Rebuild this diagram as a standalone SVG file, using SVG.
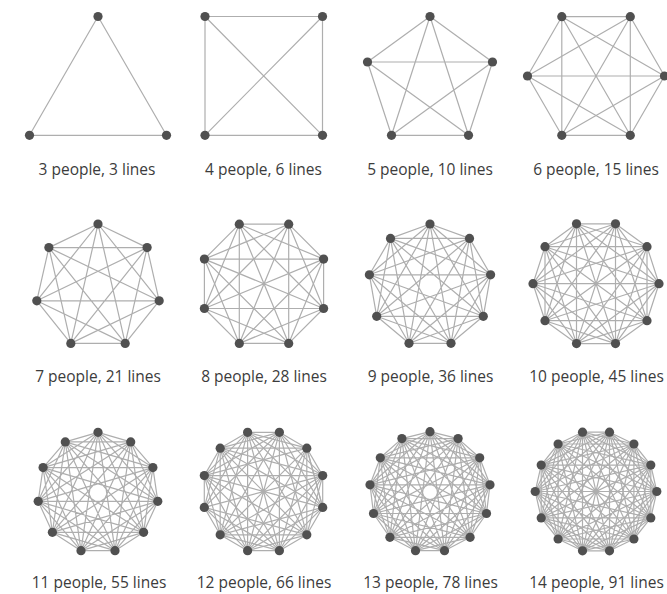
<svg xmlns="http://www.w3.org/2000/svg" width="667" height="594" viewBox="0 0 667 594">
<style>
.e{fill:none;stroke:#aeaeae;stroke-width:1.2;stroke-linejoin:round}
.n circle{fill:#505050}
.lbl{font-family:"Open Sans","Noto Sans","DejaVu Sans",sans-serif;font-size:15.5px;fill:#3c3c3c;text-anchor:middle}
</style>
<rect width="667" height="594" fill="#fff"/>
<g id="connectors">
<g id="e3"><polygon class="e" points="98,16.5 166.5,135.3 29.5,135.3"/></g>
<g id="e4"><polygon class="e" points="205,16.5 322.5,16.5 322.5,135.3 205,135.3"/><path class="e" d="M205,16.5L322.5,135.3M322.5,16.5L205,135.3"/></g>
<g id="e5">
<polygon class="e" points="430,16.5 492.5,62 468.5,135.3 391.5,135.3 367.5,62"/>
<polygon class="e" points="430,16.5 468.5,135.3 367.5,62 492.5,62 391.5,135.3"/>
</g>
<g id="e6">
<polygon class="e" points="561.8,16.7 630.3,16.7 664.5,76 630.3,135.3 561.8,135.3 527.5,76"/>
<polygon class="e" points="561.8,16.7 664.5,76 561.8,135.3"/>
<polygon class="e" points="630.3,16.7 630.3,135.3 527.5,76"/>
<path class="e" d="M561.8,16.7L630.3,135.3M630.3,16.7L561.8,135.3M664.5,76L527.5,76"/>
</g>
<g id="e7">
<polygon class="e" points="98,224 147.1,247.6 159.2,300.8 125.2,343.4 70.8,343.4 36.8,300.8 48.9,247.6"/>
<polygon class="e" points="98,224 159.2,300.8 70.8,343.4 48.9,247.6 147.1,247.6 125.2,343.4 36.8,300.8"/>
<polygon class="e" points="98,224 125.2,343.4 48.9,247.6 159.2,300.8 36.8,300.8 147.1,247.6 70.8,343.4"/>
</g>
<g id="e8">
<polygon class="e" points="288.7,224.2 323.6,259.1 323.6,308.5 288.7,343.4 239.3,343.4 204.4,308.5 204.4,259.1 239.3,224.2"/>
<polygon class="e" points="288.7,224.2 323.6,308.5 239.3,343.4 204.4,259.1"/>
<polygon class="e" points="323.6,259.1 288.7,343.4 204.4,308.5 239.3,224.2"/>
<polygon class="e" points="288.7,224.2 288.7,343.4 204.4,259.1 323.6,259.1 239.3,343.4 239.3,224.2 323.6,308.5 204.4,308.5"/>
<path class="e" d="M288.7,224.2L239.3,343.4M323.6,259.1L204.4,308.5M323.6,308.5L204.4,259.1M288.7,343.4L239.3,224.2"/>
</g>
<g id="e9">
<polygon class="e" points="430,224 469.5,238.4 490.6,274.8 483.3,316.3 451,343.3 409,343.3 376.7,316.3 369.4,274.8 390.5,238.4"/>
<polygon class="e" points="430,224 490.6,274.8 451,343.3 376.7,316.3 390.5,238.4 469.5,238.4 483.3,316.3 409,343.3 369.4,274.8"/>
<polygon class="e" points="430,224 483.3,316.3 376.7,316.3"/>
<polygon class="e" points="469.5,238.4 451,343.3 369.4,274.8"/>
<polygon class="e" points="490.6,274.8 409,343.3 390.5,238.4"/>
<polygon class="e" points="430,224 451,343.3 390.5,238.4 483.3,316.3 369.4,274.8 490.6,274.8 376.7,316.3 469.5,238.4 409,343.3"/>
</g>
<g id="e10">
<polygon class="e" points="615.5,223.8 647,246.7 659,283.7 647,320.7 615.5,343.6 576.5,343.6 545,320.7 533,283.7 545,246.7 576.5,223.8"/>
<polygon class="e" points="615.5,223.8 659,283.7 615.5,343.6 545,320.7 545,246.7"/>
<polygon class="e" points="647,246.7 647,320.7 576.5,343.6 533,283.7 576.5,223.8"/>
<polygon class="e" points="615.5,223.8 647,320.7 545,320.7 576.5,223.8 659,283.7 576.5,343.6 545,246.7 647,246.7 615.5,343.6 533,283.7"/>
<polygon class="e" points="615.5,223.8 615.5,343.6 545,246.7 659,283.7 545,320.7"/>
<polygon class="e" points="647,246.7 576.5,343.6 576.5,223.8 647,320.7 533,283.7"/>
<path class="e" d="M615.5,223.8L576.5,343.6M647,246.7L545,320.7M659,283.7L533,283.7M647,320.7L545,246.7M615.5,343.6L576.5,223.8"/>
</g>
<g id="e11">
<polygon class="e" points="98,432.3 130.7,441.9 152.9,467.6 157.8,501.3 143.6,532.3 115,550.7 81,550.7 52.4,532.3 38.2,501.3 43.1,467.6 65.3,441.9"/>
<polygon class="e" points="98,432.3 152.9,467.6 143.6,532.3 81,550.7 38.2,501.3 65.3,441.9 130.7,441.9 157.8,501.3 115,550.7 52.4,532.3 43.1,467.6"/>
<polygon class="e" points="98,432.3 157.8,501.3 81,550.7 43.1,467.6 130.7,441.9 143.6,532.3 52.4,532.3 65.3,441.9 152.9,467.6 115,550.7 38.2,501.3"/>
<polygon class="e" points="98,432.3 143.6,532.3 38.2,501.3 130.7,441.9 115,550.7 43.1,467.6 152.9,467.6 81,550.7 65.3,441.9 157.8,501.3 52.4,532.3"/>
<polygon class="e" points="98,432.3 115,550.7 65.3,441.9 143.6,532.3 43.1,467.6 157.8,501.3 38.2,501.3 152.9,467.6 52.4,532.3 130.7,441.9 81,550.7"/>
</g>
<g id="e12">
<polygon class="e" points="279.4,432.3 306.8,448.2 322.7,475.6 322.7,507.4 306.8,534.8 279.4,550.7 247.6,550.7 220.2,534.8 204.3,507.4 204.3,475.6 220.2,448.2 247.6,432.3"/>
<polygon class="e" points="279.4,432.3 322.7,475.6 306.8,534.8 247.6,550.7 204.3,507.4 220.2,448.2"/>
<polygon class="e" points="306.8,448.2 322.7,507.4 279.4,550.7 220.2,534.8 204.3,475.6 247.6,432.3"/>
<polygon class="e" points="279.4,432.3 322.7,507.4 247.6,550.7 204.3,475.6"/>
<polygon class="e" points="306.8,448.2 306.8,534.8 220.2,534.8 220.2,448.2"/>
<polygon class="e" points="322.7,475.6 279.4,550.7 204.3,507.4 247.6,432.3"/>
<polygon class="e" points="279.4,432.3 306.8,534.8 204.3,507.4"/>
<polygon class="e" points="306.8,448.2 279.4,550.7 204.3,475.6"/>
<polygon class="e" points="322.7,475.6 247.6,550.7 220.2,448.2"/>
<polygon class="e" points="322.7,507.4 220.2,534.8 247.6,432.3"/>
<polygon class="e" points="279.4,432.3 279.4,550.7 220.2,448.2 322.7,507.4 306.8,448.2 247.6,550.7 247.6,432.3 306.8,534.8 204.3,475.6 322.7,475.6 220.2,534.8"/>
<path class="e" d="M279.4,432.3L247.6,550.7M306.8,448.2L220.2,534.8M322.7,475.6L204.3,507.4M322.7,507.4L204.3,475.6M306.8,534.8L220.2,448.2M279.4,550.7L247.6,432.3"/>
</g>
<g id="e13">
<polygon class="e" points="430,431.7 458.1,438.6 479.7,457.8 490,484.8 486.5,513.5 470.1,537.3 444.5,550.7 415.5,550.7 389.9,537.3 373.5,513.5 370,484.8 380.3,457.8 401.9,438.6"/>
<polygon class="e" points="430,431.7 479.7,457.8 486.5,513.5 444.5,550.7 389.9,537.3 370,484.8 401.9,438.6 458.1,438.6 490,484.8 470.1,537.3 415.5,550.7 373.5,513.5 380.3,457.8"/>
<polygon class="e" points="430,431.7 490,484.8 444.5,550.7 373.5,513.5 401.9,438.6 479.7,457.8 470.1,537.3 389.9,537.3 380.3,457.8 458.1,438.6 486.5,513.5 415.5,550.7 370,484.8"/>
<polygon class="e" points="430,431.7 486.5,513.5 389.9,537.3 401.9,438.6 490,484.8 415.5,550.7 380.3,457.8 479.7,457.8 444.5,550.7 370,484.8 458.1,438.6 470.1,537.3 373.5,513.5"/>
<polygon class="e" points="430,431.7 470.1,537.3 370,484.8 479.7,457.8 415.5,550.7 401.9,438.6 486.5,513.5 373.5,513.5 458.1,438.6 444.5,550.7 380.3,457.8 490,484.8 389.9,537.3"/>
<polygon class="e" points="430,431.7 444.5,550.7 401.9,438.6 470.1,537.3 380.3,457.8 486.5,513.5 370,484.8 490,484.8 373.5,513.5 479.7,457.8 389.9,537.3 458.1,438.6 415.5,550.7"/>
</g>
<g id="e14">
<polygon class="e" points="609.5,432.2 633.9,444 650.8,465.1 656.8,491.5 650.8,517.9 633.9,539 609.5,550.8 582.5,550.8 558.1,539 541.2,517.9 535.2,491.5 541.2,465.1 558.1,444 582.5,432.2"/>
<polygon class="e" points="609.5,432.2 650.8,465.1 650.8,517.9 609.5,550.8 558.1,539 535.2,491.5 558.1,444"/>
<polygon class="e" points="633.9,444 656.8,491.5 633.9,539 582.5,550.8 541.2,517.9 541.2,465.1 582.5,432.2"/>
<polygon class="e" points="609.5,432.2 656.8,491.5 609.5,550.8 541.2,517.9 558.1,444 633.9,444 650.8,517.9 582.5,550.8 535.2,491.5 582.5,432.2 650.8,465.1 633.9,539 558.1,539 541.2,465.1"/>
<polygon class="e" points="609.5,432.2 650.8,517.9 558.1,539 558.1,444 650.8,465.1 609.5,550.8 535.2,491.5"/>
<polygon class="e" points="633.9,444 633.9,539 541.2,517.9 582.5,432.2 656.8,491.5 582.5,550.8 541.2,465.1"/>
<polygon class="e" points="609.5,432.2 633.9,539 535.2,491.5 633.9,444 609.5,550.8 541.2,465.1 650.8,465.1 582.5,550.8 558.1,444 656.8,491.5 558.1,539 582.5,432.2 650.8,517.9 541.2,517.9"/>
<polygon class="e" points="609.5,432.2 609.5,550.8 558.1,444 650.8,517.9 535.2,491.5 650.8,465.1 558.1,539"/>
<polygon class="e" points="633.9,444 582.5,550.8 582.5,432.2 633.9,539 541.2,465.1 656.8,491.5 541.2,517.9"/>
<path class="e" d="M609.5,432.2L582.5,550.8M633.9,444L558.1,539M650.8,465.1L541.2,517.9M656.8,491.5L535.2,491.5M650.8,517.9L541.2,465.1M633.9,539L558.1,444M609.5,550.8L582.5,432.2"/>
</g>
</g>
<g id="people">
<g id="p3" class="n"><circle id="p3-1" cx="98" cy="16.5" r="4.6"/><circle id="p3-2" cx="166.5" cy="135.3" r="4.6"/><circle id="p3-3" cx="29.5" cy="135.3" r="4.6"/></g>
<g id="p4" class="n"><circle id="p4-1" cx="205" cy="16.5" r="4.6"/><circle id="p4-2" cx="322.5" cy="16.5" r="4.6"/><circle id="p4-3" cx="322.5" cy="135.3" r="4.6"/><circle id="p4-4" cx="205" cy="135.3" r="4.6"/></g>
<g id="p5" class="n"><circle id="p5-1" cx="430" cy="16.5" r="4.6"/><circle id="p5-2" cx="492.5" cy="62" r="4.6"/><circle id="p5-3" cx="468.5" cy="135.3" r="4.6"/><circle id="p5-4" cx="391.5" cy="135.3" r="4.6"/><circle id="p5-5" cx="367.5" cy="62" r="4.6"/></g>
<g id="p6" class="n"><circle id="p6-1" cx="561.8" cy="16.7" r="4.6"/><circle id="p6-2" cx="630.3" cy="16.7" r="4.6"/><circle id="p6-3" cx="664.5" cy="76" r="4.6"/><circle id="p6-4" cx="630.3" cy="135.3" r="4.6"/><circle id="p6-5" cx="561.8" cy="135.3" r="4.6"/><circle id="p6-6" cx="527.5" cy="76" r="4.6"/></g>
<g id="p7" class="n"><circle id="p7-1" cx="98" cy="224" r="4.6"/><circle id="p7-2" cx="147.1" cy="247.6" r="4.6"/><circle id="p7-3" cx="159.2" cy="300.8" r="4.6"/><circle id="p7-4" cx="125.2" cy="343.4" r="4.6"/><circle id="p7-5" cx="70.8" cy="343.4" r="4.6"/><circle id="p7-6" cx="36.8" cy="300.8" r="4.6"/><circle id="p7-7" cx="48.9" cy="247.6" r="4.6"/></g>
<g id="p8" class="n"><circle id="p8-1" cx="288.7" cy="224.2" r="4.6"/><circle id="p8-2" cx="323.6" cy="259.1" r="4.6"/><circle id="p8-3" cx="323.6" cy="308.5" r="4.6"/><circle id="p8-4" cx="288.7" cy="343.4" r="4.6"/><circle id="p8-5" cx="239.3" cy="343.4" r="4.6"/><circle id="p8-6" cx="204.4" cy="308.5" r="4.6"/><circle id="p8-7" cx="204.4" cy="259.1" r="4.6"/><circle id="p8-8" cx="239.3" cy="224.2" r="4.6"/></g>
<g id="p9" class="n"><circle id="p9-1" cx="430" cy="224" r="4.6"/><circle id="p9-2" cx="469.5" cy="238.4" r="4.6"/><circle id="p9-3" cx="490.6" cy="274.8" r="4.6"/><circle id="p9-4" cx="483.3" cy="316.3" r="4.6"/><circle id="p9-5" cx="451" cy="343.3" r="4.6"/><circle id="p9-6" cx="409" cy="343.3" r="4.6"/><circle id="p9-7" cx="376.7" cy="316.3" r="4.6"/><circle id="p9-8" cx="369.4" cy="274.8" r="4.6"/><circle id="p9-9" cx="390.5" cy="238.4" r="4.6"/></g>
<g id="p10" class="n"><circle id="p10-1" cx="615.5" cy="223.8" r="4.6"/><circle id="p10-2" cx="647" cy="246.7" r="4.6"/><circle id="p10-3" cx="659" cy="283.7" r="4.6"/><circle id="p10-4" cx="647" cy="320.7" r="4.6"/><circle id="p10-5" cx="615.5" cy="343.6" r="4.6"/><circle id="p10-6" cx="576.5" cy="343.6" r="4.6"/><circle id="p10-7" cx="545" cy="320.7" r="4.6"/><circle id="p10-8" cx="533" cy="283.7" r="4.6"/><circle id="p10-9" cx="545" cy="246.7" r="4.6"/><circle id="p10-10" cx="576.5" cy="223.8" r="4.6"/></g>
<g id="p11" class="n"><circle id="p11-1" cx="98" cy="432.3" r="4.6"/><circle id="p11-2" cx="130.7" cy="441.9" r="4.6"/><circle id="p11-3" cx="152.9" cy="467.6" r="4.6"/><circle id="p11-4" cx="157.8" cy="501.3" r="4.6"/><circle id="p11-5" cx="143.6" cy="532.3" r="4.6"/><circle id="p11-6" cx="115" cy="550.7" r="4.6"/><circle id="p11-7" cx="81" cy="550.7" r="4.6"/><circle id="p11-8" cx="52.4" cy="532.3" r="4.6"/><circle id="p11-9" cx="38.2" cy="501.3" r="4.6"/><circle id="p11-10" cx="43.1" cy="467.6" r="4.6"/><circle id="p11-11" cx="65.3" cy="441.9" r="4.6"/></g>
<g id="p12" class="n"><circle id="p12-1" cx="279.4" cy="432.3" r="4.6"/><circle id="p12-2" cx="306.8" cy="448.2" r="4.6"/><circle id="p12-3" cx="322.7" cy="475.6" r="4.6"/><circle id="p12-4" cx="322.7" cy="507.4" r="4.6"/><circle id="p12-5" cx="306.8" cy="534.8" r="4.6"/><circle id="p12-6" cx="279.4" cy="550.7" r="4.6"/><circle id="p12-7" cx="247.6" cy="550.7" r="4.6"/><circle id="p12-8" cx="220.2" cy="534.8" r="4.6"/><circle id="p12-9" cx="204.3" cy="507.4" r="4.6"/><circle id="p12-10" cx="204.3" cy="475.6" r="4.6"/><circle id="p12-11" cx="220.2" cy="448.2" r="4.6"/><circle id="p12-12" cx="247.6" cy="432.3" r="4.6"/></g>
<g id="p13" class="n"><circle id="p13-1" cx="430" cy="431.7" r="4.6"/><circle id="p13-2" cx="458.1" cy="438.6" r="4.6"/><circle id="p13-3" cx="479.7" cy="457.8" r="4.6"/><circle id="p13-4" cx="490" cy="484.8" r="4.6"/><circle id="p13-5" cx="486.5" cy="513.5" r="4.6"/><circle id="p13-6" cx="470.1" cy="537.3" r="4.6"/><circle id="p13-7" cx="444.5" cy="550.7" r="4.6"/><circle id="p13-8" cx="415.5" cy="550.7" r="4.6"/><circle id="p13-9" cx="389.9" cy="537.3" r="4.6"/><circle id="p13-10" cx="373.5" cy="513.5" r="4.6"/><circle id="p13-11" cx="370" cy="484.8" r="4.6"/><circle id="p13-12" cx="380.3" cy="457.8" r="4.6"/><circle id="p13-13" cx="401.9" cy="438.6" r="4.6"/></g>
<g id="p14" class="n"><circle id="p14-1" cx="609.5" cy="432.2" r="4.6"/><circle id="p14-2" cx="633.9" cy="444" r="4.6"/><circle id="p14-3" cx="650.8" cy="465.1" r="4.6"/><circle id="p14-4" cx="656.8" cy="491.5" r="4.6"/><circle id="p14-5" cx="650.8" cy="517.9" r="4.6"/><circle id="p14-6" cx="633.9" cy="539" r="4.6"/><circle id="p14-7" cx="609.5" cy="550.8" r="4.6"/><circle id="p14-8" cx="582.5" cy="550.8" r="4.6"/><circle id="p14-9" cx="558.1" cy="539" r="4.6"/><circle id="p14-10" cx="541.2" cy="517.9" r="4.6"/><circle id="p14-11" cx="535.2" cy="491.5" r="4.6"/><circle id="p14-12" cx="541.2" cy="465.1" r="4.6"/><circle id="p14-13" cx="558.1" cy="444" r="4.6"/><circle id="p14-14" cx="582.5" cy="432.2" r="4.6"/></g>
</g>
<g id="labels" class="lbl">
<text x="97" y="175">3 people, 3 lines</text>
<text x="263.5" y="175">4 people, 6 lines</text>
<text x="430" y="175">5 people, 10 lines</text>
<text x="596" y="175">6 people, 15 lines</text>
<text x="98" y="381.5">7 people, 21 lines</text>
<text x="264" y="381.5">8 people, 28 lines</text>
<text x="430.5" y="381.5">9 people, 36 lines</text>
<text x="596.5" y="381.5">10 people, 45 lines</text>
<text x="99" y="588">11 people, 55 lines</text>
<text x="264" y="588">12 people, 66 lines</text>
<text x="430.5" y="588">13 people, 78 lines</text>
<text x="596.5" y="588">14 people, 91 lines</text>
</g>
</svg>
